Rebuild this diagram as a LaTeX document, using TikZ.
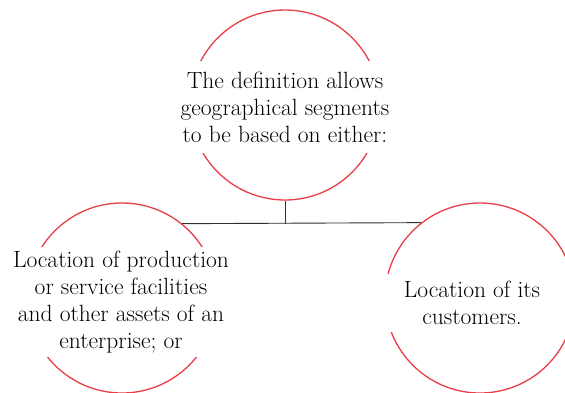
\documentclass[tikz,border=0pt]{standalone}
\usepackage{tikz}
\usetikzlibrary{positioning}
\definecolor{ringred}{RGB}{232,62,72}
\definecolor{linegray}{RGB}{45,45,45}
\tikzset{
  ring/.style={circle, draw=ringred, line width=1.3pt, minimum size=190pt, inner sep=0pt},
  txt/.style={fill=white, align=center, inner xsep=4pt, inner ysep=7pt,
    font=\fontsize{23.5}{27}\selectfont}
}

\begin{document}
\begin{tikzpicture}[x=1pt, y=-1pt, line width=0.9pt]
    \useasboundingbox (0,0) rectangle (565,392);
    \clip (0,0) rectangle (565,392);

    \node[ring] (top) at (285,105) {};
    \node[ring] (left) at (122,298) {};
    \node[ring] (right) at (480,298) {};

    \node[txt, inner ysep=11pt] (toptext) at (285,107)
    {The definition allows\\geographical segments\\to be based on either:};
    \node[txt, inner ysep=4pt] (lefttext) at (121,302)
    {Location of production\\or service facilities\\and other assets of an\\enterprise; or};
    \node[txt, minimum width=186pt] (righttext) at (472,303) {Location of its\\customers.};

    \coordinate (join) at (285,224);

    \draw[linegray] (top.south) -- (join);
    \draw[linegray] (left.51.2) -- (right.128.8);
\end{tikzpicture}
\end{document}
